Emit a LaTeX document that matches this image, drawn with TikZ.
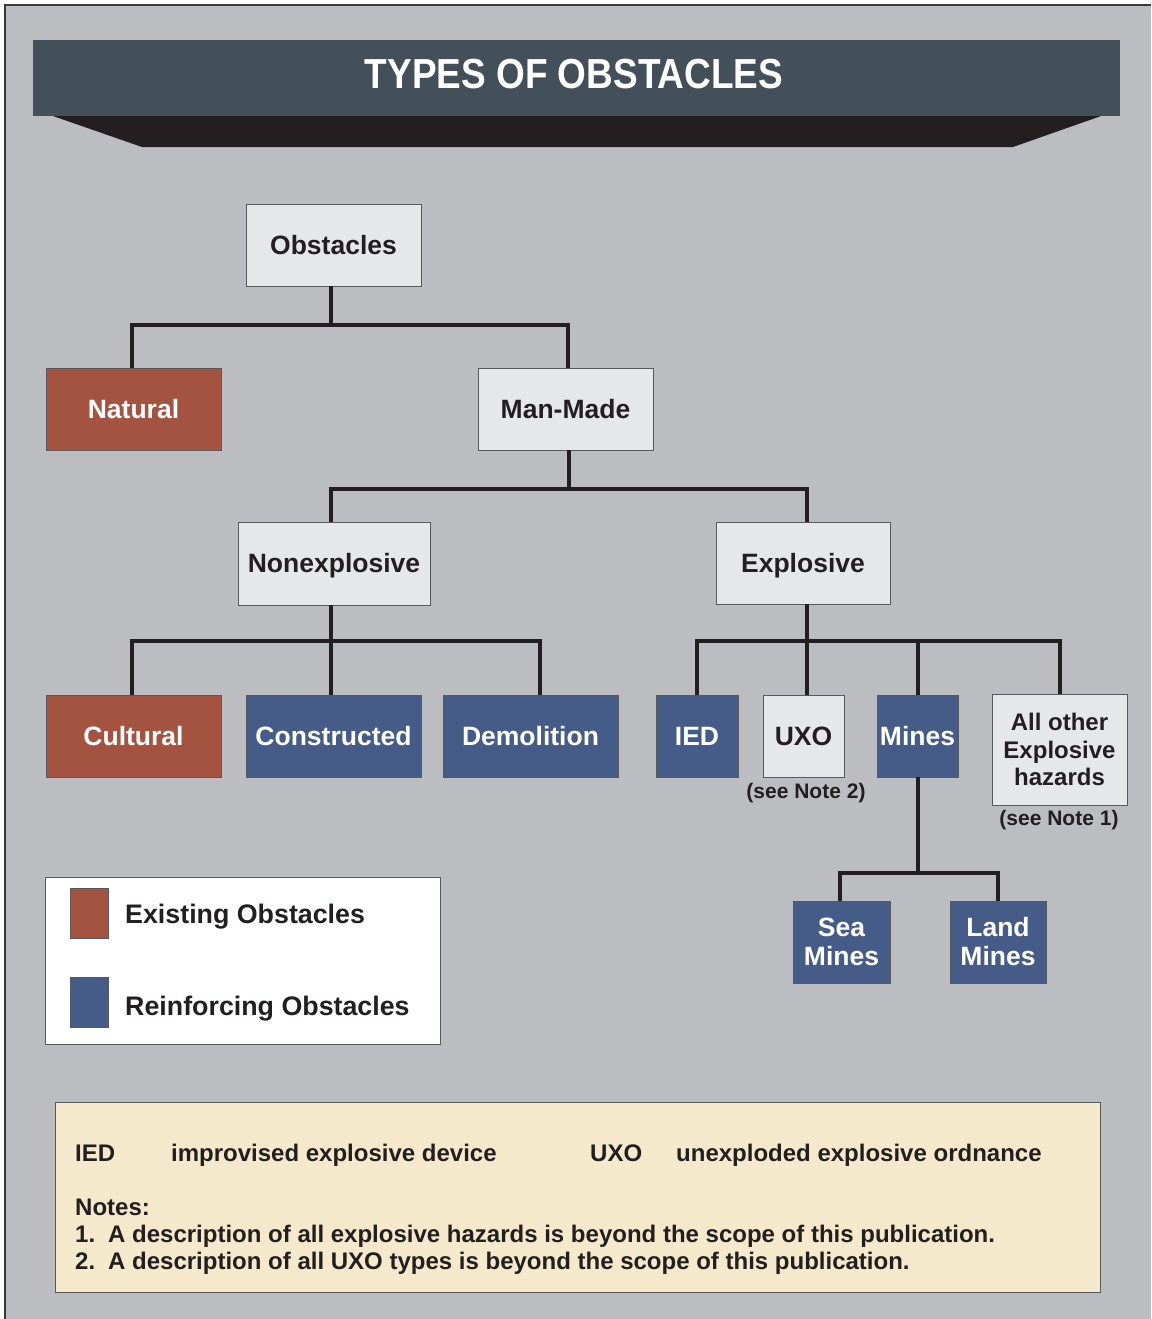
\documentclass[tikz,border=0pt]{standalone}
\usepackage{fontspec}
\setmainfont{Liberation Sans}
\usepackage{graphicx}

\definecolor{pagebg}{HTML}{BCBDC1}
\definecolor{framecol}{HTML}{3A3A3C}
\definecolor{titlebar}{HTML}{434F59}
\definecolor{titleshade}{HTML}{231F20}
\definecolor{ink}{HTML}{231F20}
\definecolor{edgecol}{HTML}{58595B}
\definecolor{lightfill}{HTML}{E6E7E8}
\definecolor{existfill}{HTML}{A45340}
\definecolor{reinffill}{HTML}{455C88}
\definecolor{notefill}{HTML}{F5E9CB}

\begin{document}
\begin{tikzpicture}[x=1pt, y=-1pt,
  box/.style={draw=edgecol, line width=0.9pt, inner sep=0pt, align=center,
    font=\fontsize{26.5}{28}\selectfont\bfseries, text height=18pt, text depth=0pt},
  plainbox/.style={box, fill=lightfill, text=ink},
  existbox/.style={box, fill=existfill, text=white},
  reinfbox/.style={box, fill=reinffill, text=white},
  multiline/.style={text height=, text depth=},
  wire/.style={draw=ink, line width=4pt, line join=miter},
  notetext/.style={anchor=base west, inner sep=0pt, text=ink,
    font=\fontsize{24}{27}\selectfont\bfseries},
  small/.style={inner sep=0pt, anchor=base, text=ink,
    font=\fontsize{21}{24}\selectfont\bfseries},
  keytext/.style={anchor=base west, inner sep=0pt, text=ink,
    font=\fontsize{26.8}{28}\selectfont\bfseries},
  swatch/.style={draw=edgecol, line width=0.8pt, minimum width=38pt, minimum height=50pt, inner sep=0pt}
]
\useasboundingbox (0,0) rectangle (1151,1319);

% page background and frame
\fill[white] (0,0) rectangle (1151,1319);
\fill[pagebg] (5,5) rectangle (1151,1319);
\draw[framecol, line width=1.3pt] (5,1319) -- (5,5) -- (1151,5);

% title banner
\fill[titleshade] (50,115) -- (1104,115) -- (1013,147) -- (142,147) -- cycle;
\fill[titlebar] (33,40) rectangle (1120,116);
\node[anchor=base, inner sep=0pt, text=white, font=\fontsize{42}{42}\selectfont\bfseries]
  (title) at (574,88.5) {\scalebox{0.88}[1]{TYPES OF OBSTACLES}};

% hierarchy boxes
\node[plainbox, minimum width=175pt, minimum height=82pt] (obst) at (333.5,245) {Obstacles};
\node[existbox, minimum width=175pt, minimum height=82pt] (natural) at (133.5,409) {Natural};
\node[plainbox, minimum width=175pt, minimum height=82pt] (manmade) at (565.5,409) {Man-Made};
\node[plainbox, minimum width=192pt, minimum height=83pt] (nonexp) at (334,563.5) {Nonexplosive};
\node[plainbox, minimum width=174pt, minimum height=82pt] (explo) at (803,563) {Explosive};

\node[existbox, minimum width=175pt, minimum height=82pt] (cultural) at (133.5,736) {Cultural};
\node[reinfbox, minimum width=175pt, minimum height=82pt] (constr) at (333.5,736) {Constructed};
\node[reinfbox, minimum width=175pt, minimum height=82pt] (demol) at (530.5,736) {Demolition};

\node[reinfbox, minimum width=82pt, minimum height=82pt] (ied) at (697,736) {IED};
\node[plainbox, minimum width=81pt, minimum height=82pt] (uxo) at (803.5,736) {UXO};
\node[reinfbox, minimum width=81pt, minimum height=82pt] (mines) at (917.5,736) {Mines};
\node[plainbox, multiline, minimum width=135pt, minimum height=111pt,
  font=\fontsize{24}{27.5}\selectfont\bfseries] (other) at (1059.5,749.5) {All other\\Explosive\\hazards};

\node[reinfbox, multiline, minimum width=97pt, minimum height=82pt,
  font=\fontsize{26.5}{29}\selectfont\bfseries] (sea) at (841.5,942) {Sea\\Mines};
\node[reinfbox, multiline, minimum width=96pt, minimum height=82pt,
  font=\fontsize{26.5}{29}\selectfont\bfseries] (land) at (998,942) {Land\\Mines};

\node[small] (note2) at (806,798) {(see Note 2)};
\node[small] (note1) at (1059,825) {(see Note 1)};

% attachment points of the connectors on the boxes
\coordinate (obstB) at ([xshift=-2.5pt]obst.south);
\coordinate (natT) at ([xshift=-1.5pt]natural.north);
\coordinate (mmT) at ([xshift=2.5pt]manmade.north);
\coordinate (mmB) at ([xshift=3.5pt]manmade.south);
\coordinate (neT) at ([xshift=-3pt]nonexp.north);
\coordinate (neB) at ([xshift=-3pt]nonexp.south);
\coordinate (exT) at ([xshift=4pt]explo.north);
\coordinate (exB) at ([xshift=4pt]explo.south);
\coordinate (culT) at ([xshift=-1.5pt]cultural.north);
\coordinate (conT) at ([xshift=-2.5pt]constr.north);
\coordinate (demT) at ([xshift=9.5pt]demol.north);
\coordinate (uxoT) at ([xshift=3.5pt]uxo.north);
\coordinate (minT) at ([xshift=0.5pt]mines.north);
\coordinate (minB) at ([xshift=0.5pt]mines.south);
\coordinate (seaT) at ([xshift=-1.5pt]sea.north);

% connectors
\draw[wire] (obstB) -- (obstB |- 0,325);
\draw[wire] (natT) |- (mmT |- 0,325) -- (mmT);

\draw[wire] (mmB) -- (mmB |- 0,489);
\draw[wire] (neT) |- (exT |- 0,489) -- (exT);

\draw[wire] (neB) -- (neB |- 0,641);
\draw[wire] (culT) |- (demT |- 0,641) -- (demT);
\draw[wire] (conT) -- (conT |- 0,641);

\draw[wire] (exB) -- (exB |- 0,641);
\draw[wire] (ied.north) |- (other.north |- 0,641) -- (other.north);
\draw[wire] (uxoT) -- (uxoT |- 0,641);
\draw[wire] (minT) -- (minT |- 0,641);

\draw[wire] (minB) -- (minB |- 0,873);
\draw[wire] (seaT) |- (land.north |- 0,873) -- (land.north);

% key
\node[draw=edgecol, fill=white, line width=1pt, inner sep=0pt, minimum width=395pt, minimum height=167pt]
  (key) at (242.5,960.5) {};
\node[swatch, fill=existfill] (keyexist) at (89,913) {};
\node[swatch, fill=reinffill] (keyreinf) at (89,1002) {};
\node[keytext] (keyexisttxt) at (125,923) {Existing Obstacles};
\node[keytext] (keyreinftxt) at (125,1015) {Reinforcing Obstacles};

% abbreviations and notes
\node[draw=edgecol, fill=notefill, line width=1pt, inner sep=0pt, minimum width=1045pt, minimum height=190pt]
  (notes) at (577.5,1197) {};
\node[notetext] (abbr1) at (75,1161.5) {IED};
\node[notetext] (abbr1def) at (171,1161.5) {improvised explosive device};
\node[notetext] (abbr2) at (590,1161.5) {UXO};
\node[notetext] (abbr2def) at (676,1161.5) {unexploded explosive ordnance};
\node[notetext] (notehead) at (75,1215.5) {Notes:};
\node[notetext] (n1num) at (75,1242.5) {1.};
\node[notetext] (n1) at (108,1242.5) {A description of all explosive hazards is beyond the scope of this publication.};
\node[notetext] (n2num) at (75,1269.5) {2.};
\node[notetext] (n2) at (108,1269.5) {A description of all UXO types is beyond the scope of this publication.};
\end{tikzpicture}
\end{document}
